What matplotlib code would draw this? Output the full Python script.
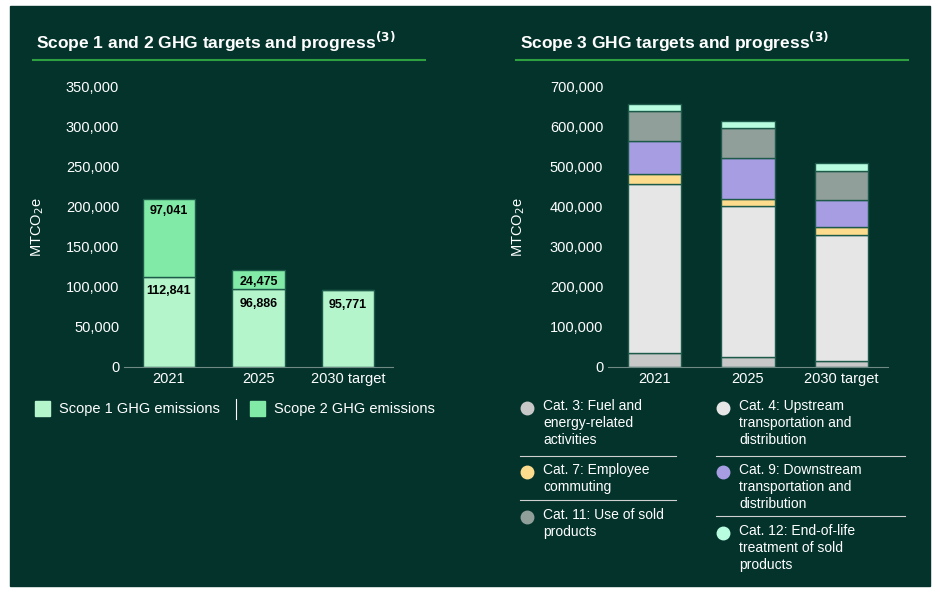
import matplotlib.pyplot as plt
from matplotlib.lines import Line2D
from matplotlib.patches import Rectangle
import numpy as np

bg = '#04332c'
years = ['2021', '2025', '2030 target']
scope1 = [112841, 96886, 95771]
scope2 = [97041, 24475, 0]

cat_names = ['Cat. 3: Fuel and\nenergy-related\nactivities',
             'Cat. 4: Upstream\ntransportation and\ndistribution',
             'Cat. 7: Employee\ncommuting',
             'Cat. 9: Downstream\ntransportation and\ndistribution',
             'Cat. 11: Use of sold\nproducts',
             'Cat. 12: End-of-life\ntreatment of sold\nproducts']
cat_colors = ['#c8c8c8', '#e6e6e6', '#fddc8e', '#a79de3', '#909f9a', '#b8fde0']
cat3 = [36000, 24000, 14000]
cat4 = [421000, 378000, 317000]
cat7 = [26000, 18000, 18000]
cat9 = [81000, 102000, 68000]
cat11 = [75000, 75000, 72000]
cat12 = [19000, 18000, 21000]
scope3 = [cat3, cat4, cat7, cat9, cat11, cat12]

plt.rcParams['font.family'] = ['Liberation Sans', 'DejaVu Sans']
fig = plt.figure(figsize=(9.4, 5.96), dpi=100)
fig.patch.set_facecolor('white')
fig.add_artist(Rectangle((10/940, 10/596), 920/940, 580/596, transform=fig.transFigure,
                         color=bg, zorder=-1))

W, H = 940, 596
def box(x0, x1, y0, y1):
    return [x0 / W, 1 - y1 / H, (x1 - x0) / W, (y1 - y0) / H]

def style(ax, ymax, step):
    ax.set_facecolor(bg)
    for s in ['top', 'right', 'left']:
        ax.spines[s].set_visible(False)
    ax.spines['bottom'].set_color('#6f8a84')
    ax.set_ylim(0, ymax)
    ax.set_yticks(np.arange(0, ymax + 1, step))
    ax.yaxis.set_major_formatter(plt.FuncFormatter(lambda v, p: f'{int(v):,}'))
    ax.tick_params(colors='white', labelsize=10.5, length=0)
    ax.set_ylabel('MTCO$_2$e', color='white', fontsize=10.5)

x = np.arange(3)
edge = '#1d5a4a'

ax1 = fig.add_axes(box(124, 393, 87, 367))
style(ax1, 350000, 50000)
ax1.set_xlim(-0.5, 2.5)
ax1.bar(x, scope1, 0.58, color='#b4f5cb', edgecolor=edge, linewidth=1)
ax1.bar(x, scope2, 0.58, bottom=scope1, color='#80eaa6', edgecolor=edge, linewidth=1)
ax1.set_xticks(x, years)
ax1.yaxis.set_label_coords(-0.29, 0.5)
for i in range(3):
    ax1.text(i, scope1[i] - 18000, f'{scope1[i]:,}', ha='center', va='center',
             fontsize=9, fontweight='bold')
    if scope2[i]:
        ax1.text(i, scope1[i] + scope2[i] - 15000, f'{scope2[i]:,}', ha='center',
                 va='center', fontsize=9, fontweight='bold')

ax2 = fig.add_axes(box(608, 888, 87, 367))
style(ax2, 700000, 100000)
ax2.set_xlim(-0.5, 2.5)
bottom = np.zeros(3)
for vals, c in zip(scope3, cat_colors):
    ax2.bar(x, vals, 0.57, bottom=bottom, color=c, edgecolor=edge, linewidth=1)
    bottom += vals
ax2.set_xticks(x, years)
ax2.yaxis.set_label_coords(-0.29, 0.5)

# titles and green rules
fig.text(36/W, 1 - 42/H, 'Scope 1 and 2 GHG targets and progress$^{\\mathbf{(3)}}$', color='white',
         fontsize=12.5, fontweight='bold', va='center')
fig.text(520/W, 1 - 42/H, 'Scope 3 GHG targets and progress$^{\\mathbf{(3)}}$', color='white',
         fontsize=12.5, fontweight='bold', va='center')
for a, b in [(33, 425), (516, 908)]:
    fig.add_artist(Line2D([a/W, b/W], [1 - 60/H] * 2, color='#2fa03f', lw=1.5))

# left legend
for lx, lab, c in [(35, 'Scope 1 GHG emissions', '#b4f5cb'), (250, 'Scope 2 GHG emissions', '#80eaa6')]:
    fig.add_artist(Rectangle((lx/W, 1 - 416/H), 15/W, 15/H, color=c, transform=fig.transFigure))
    fig.text((lx + 24)/W, 1 - 409/H, lab, color='white', fontsize=10.5, va='center')
fig.add_artist(Line2D([236/W] * 2, [1 - 399/H, 1 - 419/H], color='white', lw=0.8))

# right legend
pos = [(527, 405), (723, 405), (527, 469), (723, 469), (527, 514), (723, 530)]
lines = [(520, 676, 456), (716, 905, 456), (520, 676, 500), (716, 905, 516)]
for (lx, ly), lab, c in zip(pos, cat_names, cat_colors):
    fig.add_artist(Line2D([lx/W], [1 - (ly + 3)/H], marker='o', ms=9, color=c,
                          transform=fig.transFigure))
    fig.text((lx + 16)/W, 1 - (ly - 6)/H, lab, color='white', fontsize=10, va='top',
             linespacing=1.25)
for a, b, y in lines:
    fig.add_artist(Line2D([a/W, b/W], [1 - y/H] * 2, color='#d0d0d0', lw=0.8))

fig.savefig('out.png', dpi=100, facecolor=fig.get_facecolor())
